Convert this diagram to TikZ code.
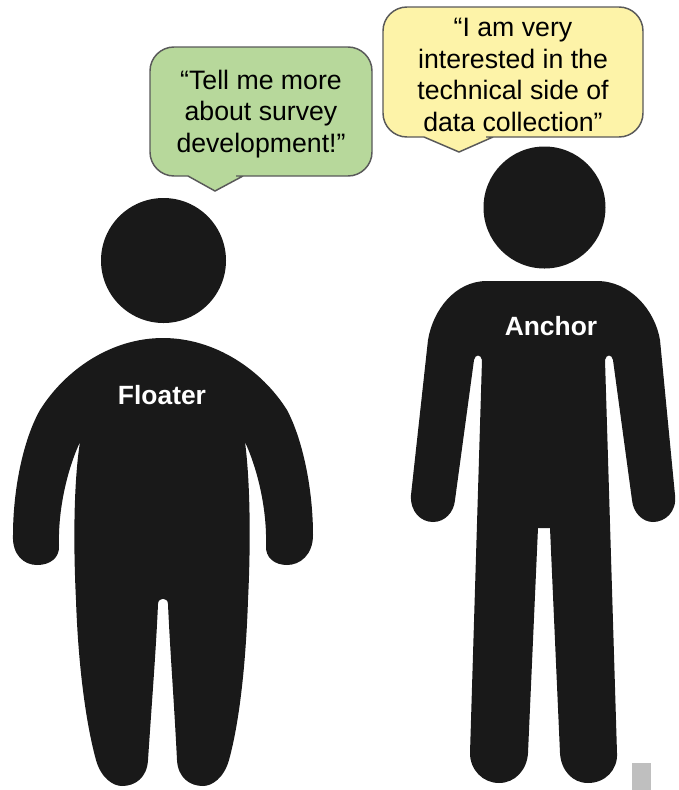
\documentclass[tikz,border=0pt]{standalone}
\usepackage{fontspec}
\setmainfont{Liberation Sans}
\tikzset{
  bubble/.style={draw=black!65,line width=1.1pt},
  figure/.style={fill=black!90,draw=none},
  saying/.style={align=center,font=\fontsize{20}{23.8}\selectfont},
  badge/.style={text=white,font=\fontsize{19.8}{23}\selectfont\bfseries}
}
\begin{document}
\begin{tikzpicture}[x=0.75pt,y=-0.75pt]
\useasboundingbox (0,0) rectangle (679,790);
% speech bubbles
\draw[bubble,fill={rgb,255:red,183;green,216;blue,155}] (260,47) [rounded corners=18] -- (372,47) -- (372,176) -- (260,176) [sharp corners] -- (243,176) -- (215,191) -- (188,176) -- (172,176) [rounded corners=18] -- (150,176) -- (150,47) -- cycle;
\draw[bubble,fill={rgb,255:red,253;green,243;blue,168}] (510,7) [rounded corners=18] -- (643,7) -- (643,137) -- (510,137) [sharp corners] -- (493,137) -- (459,152) -- (424,137) -- (405,137) [rounded corners=18] -- (383,137) -- (383,7) -- cycle;
\node[saying] (floatersays) at (261,114) {“Tell me more\\about survey\\development!”};
\node[saying] (anchorsays) at (513,75) {“I am very\\interested in the\\technical side of\\data collection”};
% floater
\fill[figure] (163.5,260.5) ellipse (62.5 and 62.5);
\fill[figure] (163,338) .. controls (215,338) and (262,370) .. (287,410)
  .. controls (303,440) and (313,490) .. (313,535)
  .. controls (313,555) and (300,565) .. (287,565)
  .. controls (275,565) and (265,558) .. (266,545)
  .. controls (267,510) and (258,470) .. (245,442)
  .. controls (250,480) and (251,540) .. (248,600)
  .. controls (246,660) and (240,720) .. (229,760)
  .. controls (224,778) and (212,786) .. (203,786)
  .. controls (190,786) and (178,778) .. (177,760)
  .. controls (174,700) and (170,650) .. (168,604)
  .. controls (168,597) and (158,597) .. (158,604)
  .. controls (156,650) and (152,700) .. (148,760)
  .. controls (147,778) and (135,786) .. (122,786)
  .. controls (113,786) and (101,778) .. (96,760)
  .. controls (85,720) and (78,660) .. (76,600)
  .. controls (73,540) and (74,480) .. (80,442)
  .. controls (67,470) and (58,510) .. (59,545)
  .. controls (60,558) and (50,565) .. (37,565)
  .. controls (24,565) and (12,555) .. (13,535)
  .. controls (13,490) and (23,440) .. (40,410)
  .. controls (65,370) and (111,338) .. (163,338) -- cycle;
\node[badge] (floaterlabel) at (162,395) {Floater};
% anchor
\fill[figure] (544.5,207.5) ellipse (61 and 61);
\fill[figure] (487,281) -- (597,281)
  .. controls (630,281) and (655,310) .. (660,340) -- (675,495)
  .. controls (677,512) and (665,522) .. (653,522)
  .. controls (642,522) and (633,512) .. (632,500) -- (613,360)
  .. controls (612,354) and (606,354) .. (605,360) -- (617,753)
  .. controls (618,770) and (605,783) .. (588,783)
  .. controls (572,783) and (561,770) .. (560,753) -- (550,528) -- (538,528) -- (528,753)
  .. controls (527,770) and (515,783) .. (499,783)
  .. controls (483,783) and (470,770) .. (470,753) -- (482,360)
  .. controls (481,354) and (475,354) .. (474,360) -- (455,500)
  .. controls (454,512) and (445,522) .. (433,522)
  .. controls (421,522) and (410,512) .. (411,495) -- (428,340)
  .. controls (433,310) and (455,281) .. (487,281) -- cycle;
\node[badge] (anchorlabel) at (551,326) {Anchor};
% grey corner mark
\fill[black!25] (632,763) rectangle (651,790);
\end{tikzpicture}
\end{document}
